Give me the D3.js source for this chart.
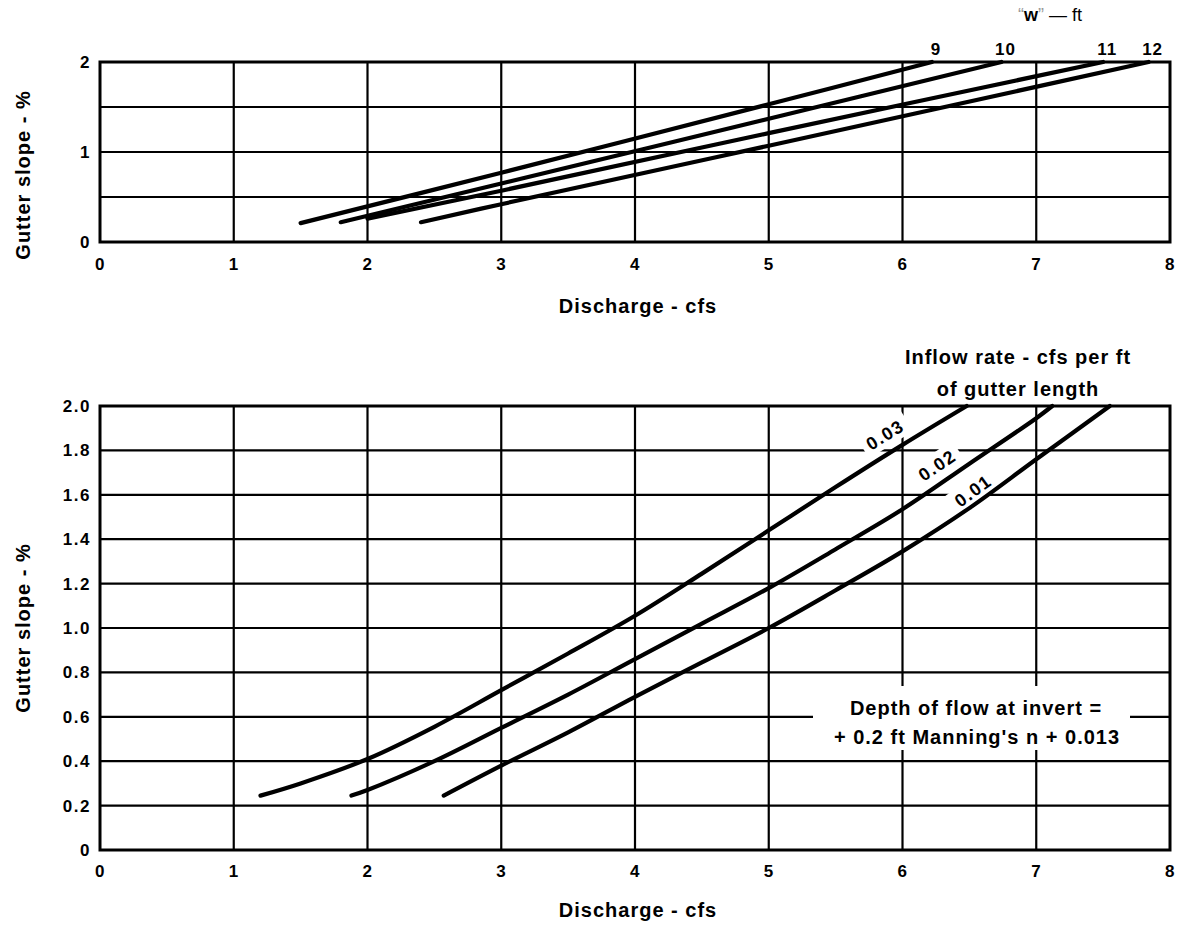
<!DOCTYPE html>
<html><head><meta charset="utf-8">
<script src="https://cdn.jsdelivr.net/npm/d3@7"></script>
<style>
body{margin:0;background:#fff}
svg{display:block;background:#fff}
text{font-family:"Liberation Sans",Arial,Helvetica,sans-serif;font-weight:bold;fill:#000}
</style></head><body><svg id="c" width="1182" height="930"></svg>
<script>
// ---------- data ----------
const xTicks = [0,1,2,3,4,5,6,7,8];
const xTickLabels = ["0","1","2","3","4","5","6","7","8"];
const topYTicks = [0,1,2];
const topYTickLabels = ["0","1","2"];
const topYGrid = [0.5,1,1.5];
const botYTicks = [0,0.2,0.4,0.6,0.8,1.0,1.2,1.4,1.6,1.8,2.0];
const botYTickLabels = ["0","0.2","0.4","0.6","0.8","1.0","1.2","1.4","1.6","1.8","2.0"];

// top chart: gutter width "W" (ft)
const widthNames = ["9","10","11","12"];
const w9Q  = [1.50,3.0,5.0,6.22];  const w9S  = [0.21,0.77,1.53,2.0];
const w10Q = [1.80,3.0,5.0,6.74];  const w10S = [0.22,0.65,1.37,2.0];
const w11Q = [2.00,3.0,5.0,7.50];  const w11S = [0.26,0.57,1.21,2.0];
const w12Q = [2.40,3.0,5.0,7.84];  const w12S = [0.22,0.42,1.07,2.0];

// bottom chart: inflow rate (cfs per ft of gutter length)
const inflowNames = ["0.03","0.02","0.01"];
const i03Q = [1.2,1.5,2.0,2.5,3.0,3.5,4.0,4.5,5.0,5.5,6.0,6.48];
const i03S = [0.245,0.30,0.41,0.555,0.72,0.885,1.055,1.245,1.44,1.635,1.825,2.0];
const i02Q = [1.88,2.0,2.5,3.0,3.5,4.0,4.5,5.0,5.5,6.0,6.5,7.0,7.12];
const i02S = [0.245,0.27,0.40,0.55,0.70,0.86,1.02,1.18,1.355,1.535,1.74,1.945,2.0];
const i01Q = [2.57,3.0,3.5,4.0,4.5,5.0,5.5,6.0,6.5,7.0,7.55];
const i01S = [0.245,0.38,0.53,0.69,0.845,1.0,1.17,1.345,1.54,1.76,2.0];

const texts = {
  yTitle: "Gutter slope - %",
  xTitle: "Discharge - cfs",
  inflow1: "Inflow rate - cfs per ft",
  inflow2: "of gutter length",
  note1: "Depth of flow at invert =",
  note2: "+ 0.2 ft Manning's n + 0.013"
};

// ---------- drawing ----------
const svg = d3.select("#c");
const X0 = 100, X1 = 1170;
const x = d3.scaleLinear().domain([0,8]).range([X0,X1]);
const yTop = d3.scaleLinear().domain([0,2]).range([242,62]);
const yBot = d3.scaleLinear().domain([0,2]).range([850,406]);

const zip = (q,s) => q.map((v,i)=>[v,s[i]]);
const topSeries = [zip(w9Q,w9S),zip(w10Q,w10S),zip(w11Q,w11S),zip(w12Q,w12S)];
const botSeries = [zip(i03Q,i03S),zip(i02Q,i02S),zip(i01Q,i01S)];

function grid(g, y, hVals){
  g.selectAll(".vg").data(xTicks.slice(1,-1)).join("line")
    .attr("x1",d=>x(d)).attr("x2",d=>x(d))
    .attr("y1",y.range()[1]).attr("y2",y.range()[0])
    .attr("stroke","#000").attr("stroke-width",2.2);
  g.selectAll(".hg").data(hVals).join("line")
    .attr("x1",X0).attr("x2",X1)
    .attr("y1",d=>y(d)).attr("y2",d=>y(d))
    .attr("stroke","#000").attr("stroke-width",2.2);
}
function border(g, y){
  g.append("rect").attr("x",X0).attr("y",y.range()[1])
    .attr("width",X1-X0).attr("height",y.range()[0]-y.range()[1])
    .attr("fill","none").attr("stroke","#000").attr("stroke-width",3);
}
function axes(g, y, yVals, yLabels, xPad){
  const ax = g.append("g").attr("transform",`translate(0,${y.range()[0]})`)
    .call(d3.axisBottom(x).tickValues(xTicks).tickFormat((d,i)=>xTickLabels[i]).tickSize(0).tickPadding(xPad));
  const ay = g.append("g").attr("transform",`translate(${X0},0)`)
    .call(d3.axisLeft(y).tickValues(yVals).tickFormat((d,i)=>yLabels[i]).tickSize(0).tickPadding(9));
  [ax,ay].forEach(a=>{
    a.select(".domain").remove();
    a.attr("font-family",null).attr("font-size",null);
    a.selectAll("text").attr("font-size",17).attr("letter-spacing","1.5px").attr("fill","#000");
  });
}
const titleStyle = s => s.attr("font-size",20).attr("letter-spacing","1px");

// ===== TOP CHART =====
const gT = svg.append("g");
grid(gT, yTop, topYGrid);
border(gT, yTop);
axes(gT, yTop, topYTicks, topYTickLabels, 16);
const lineT = d3.line().x(d=>x(d[0])).y(d=>yTop(d[1])).curve(d3.curveCatmullRom.alpha(0.5));
gT.selectAll(".wl").data(topSeries).join("path")
  .attr("d",lineT).attr("fill","none").attr("stroke","#000")
  .attr("stroke-width",4.2).attr("stroke-linecap","round");
gT.selectAll(".wn").data(topSeries).join("text")
  .attr("x",d=>x(d[d.length-1][0])+4).attr("y",55)
  .attr("text-anchor","middle").attr("font-size",17).attr("letter-spacing","1px")
  .text((d,i)=>widthNames[i]);
const wt = gT.append("text").attr("x",1050).attr("y",21).attr("text-anchor","middle").attr("font-size",18);
wt.append("tspan").attr("fill","#999").attr("font-weight","normal").text("\u201C");
wt.append("tspan").text("w");
wt.append("tspan").attr("fill","#999").attr("font-weight","normal").text("\u201D");
wt.append("tspan").attr("font-weight","normal").text(" \u2014 ft");
titleStyle(gT.append("text").attr("x",(X0+X1)/2+3).attr("y",313).attr("text-anchor","middle").text(texts.xTitle));
titleStyle(gT.append("text").attr("transform","translate(30,175) rotate(-90)").attr("text-anchor","middle").text(texts.yTitle));

// ===== BOTTOM CHART =====
const gB = svg.append("g");
grid(gB, yBot, botYTicks.slice(1,-1));
// blank box behind the note
gB.append("rect").attr("x",813).attr("y",686).attr("width",317).attr("height",64).attr("fill","#fff");
border(gB, yBot);
axes(gB, yBot, botYTicks, botYTickLabels, 15);

const lineB = d3.line().x(d=>x(d[0])).y(d=>yBot(d[1])).curve(d3.curveCatmullRom.alpha(0.5));
// labels along curves: foot point (discharge) and perpendicular offset
const lblPlace = [{q:5.94,off:18},{q:6.33,off:17},{q:6.58,off:12}];
const interp = (s,q)=>{ for(let i=0;i<s.length-1;i++){ if(q>=s[i][0]&&q<=s[i+1][0]){const t=(q-s[i][0])/(s[i+1][0]-s[i][0]);return s[i][1]+t*(s[i+1][1]-s[i][1]);} } return s[s.length-1][1]; };
const lblData = botSeries.map((s,i)=>{
  const p = lblPlace[i];
  const px = x(p.q), py = yBot(interp(s,p.q));
  const px2 = x(p.q+0.1), py2 = yBot(interp(s,p.q+0.1));
  const ang = Math.atan2(py2-py, px2-px);
  const nx = Math.sin(ang), ny = -Math.cos(ang);
  return {cx:px+nx*p.off, cy:py+ny*p.off, deg:ang*180/Math.PI, name:inflowNames[i]};
});
gB.selectAll(".lb").data(lblData).join("rect")
  .attr("x",-26).attr("y",-12).attr("width",52).attr("height",24).attr("fill","#fff")
  .attr("transform",d=>`translate(${d.cx},${d.cy}) rotate(${d.deg})`);
gB.selectAll(".il").data(botSeries).join("path")
  .attr("d",lineB).attr("fill","none").attr("stroke","#000")
  .attr("stroke-width",4.2).attr("stroke-linecap","round");
gB.selectAll(".lt").data(lblData).join("text")
  .attr("transform",d=>`translate(${d.cx},${d.cy}) rotate(${d.deg})`)
  .attr("text-anchor","middle").attr("dy","0.36em")
  .attr("font-size",18).attr("letter-spacing","1.5px").text(d=>d.name);

titleStyle(gB.append("text").attr("x",1018).attr("y",364).attr("text-anchor","middle").text(texts.inflow1));
titleStyle(gB.append("text").attr("x",1018).attr("y",396).attr("text-anchor","middle").text(texts.inflow2));
titleStyle(gB.append("text").attr("x",976).attr("y",715).attr("text-anchor","middle").attr("letter-spacing","1.5px").text(texts.note1));
titleStyle(gB.append("text").attr("x",977).attr("y",744).attr("text-anchor","middle").attr("letter-spacing","1.5px").text(texts.note2));
titleStyle(gB.append("text").attr("x",(X0+X1)/2+3).attr("y",917).attr("text-anchor","middle").text(texts.xTitle));
titleStyle(gB.append("text").attr("transform","translate(30,628) rotate(-90)").attr("text-anchor","middle").text(texts.yTitle));
</script></body></html>
